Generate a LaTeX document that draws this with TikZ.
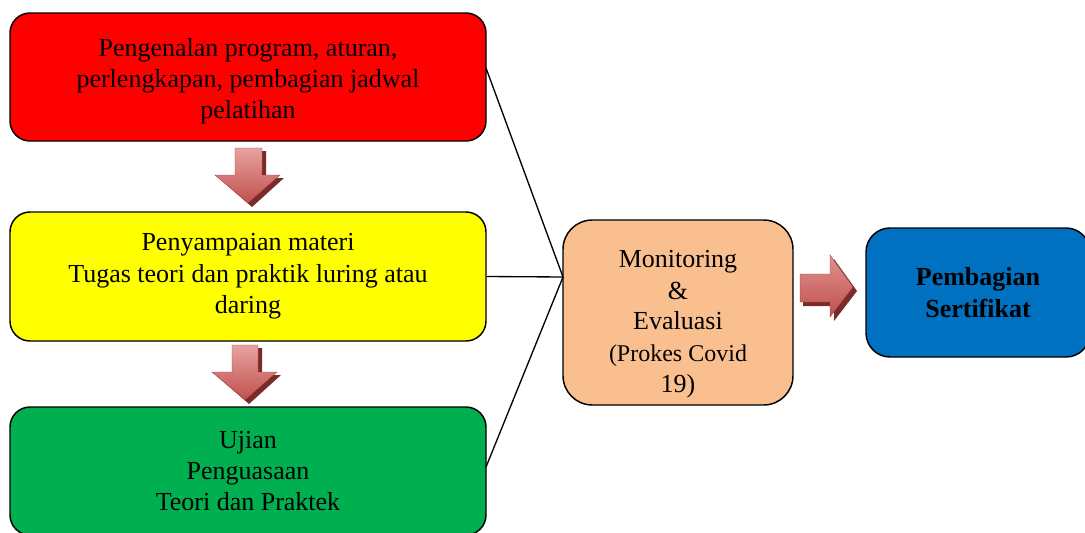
\documentclass[tikz,border=0pt]{standalone}
\usepackage{fontspec}
\setmainfont{Liberation Serif}
\definecolor{boxred}{HTML}{FF0000}
\definecolor{boxyellow}{HTML}{FFFF00}
\definecolor{boxgreen}{HTML}{00B050}
\definecolor{boxorange}{HTML}{F9BF8F}
\definecolor{boxblue}{HTML}{0070C0}
\definecolor{arrowdark}{HTML}{7A2A28}
\definecolor{arrowmain}{HTML}{C0504D}
\definecolor{arrowlight}{HTML}{E8A3A1}
\tikzset{
  box/.style={draw=black, line width=1.1pt, rounded corners=15pt, align=center,
    minimum width=357pt, minimum height=96pt, inner sep=0pt,
    font=\fontsize{19.5}{23.5}\selectfont},
  conn/.style={draw=black, line width=1pt},
  arrowshadow/.style={fill=arrowdark},
  arrowbody/.style={top color=arrowlight, bottom color=arrowmain, draw=arrowmain!80!black, line width=0.3pt},
}
\begin{document}
\begin{tikzpicture}[x=0.75pt, y=-0.75pt]
\useasboundingbox (0,0) rectangle (1085,532);

\node[box, fill=boxred] (red) at (248,77) {\rule{0pt}{20pt}Pengenalan program, aturan,\\perlengkapan, pembagian jadwal\\pelatihan};
\node[box, fill=boxyellow, minimum height=96.75pt] (yellow) at (248,276.5) {Penyampaian materi\\Tugas teori dan praktik luring atau\\daring};
\node[box, fill=boxgreen] (green) at (248,471) {Ujian\\Penguasaan\\Teori dan Praktek};
\node[box, fill=boxorange, minimum width=172.5pt, minimum height=138.75pt, rounded corners=22pt] (orange) at (678,312.5)
  {\rule{0pt}{30pt}Monitoring\\[1pt]\&\\[-1pt]Evaluasi\\\fontsize{18}{21.5}\selectfont (Prokes Covid\\19)};
\node[box, fill=boxblue, minimum width=168pt, minimum height=96.75pt, rounded corners=18pt, font=\fontsize{19.5}{23.5}\selectfont\bfseries] (blue) at (978,292.5) {Pembagian\\Sertifikat};

\coordinate (meet) at (563,277);
\coordinate (redout) at (486,68);
\coordinate (greenout) at (486,467);
\draw[conn] (redout) -- (meet);
\draw[conn] (yellow.east) -- (meet);
\draw[conn] (greenout) -- (meet);

% down arrow 1
\fill[arrowshadow] (239,151) -- (266,151) -- (266,178) -- (284,178) -- (252,207) -- (219,178) -- (239,178) -- cycle;
\shade[arrowbody] (235,148) -- (262,148) -- (262,175) -- (280,175) -- (248,203) -- (215,175) -- (235,175) -- cycle;
% down arrow 2
\fill[arrowshadow] (236,348) -- (262,348) -- (262,375) -- (281,375) -- (249,404) -- (216,375) -- (236,375) -- cycle;
\shade[arrowbody] (232,345) -- (258,345) -- (258,372) -- (277,372) -- (245,400) -- (212,372) -- (232,372) -- cycle;
% right arrow
\fill[arrowshadow] (803,278) -- (834,278) -- (834,259) -- (857,291) -- (834,321) -- (834,306) -- (803,306) -- cycle;
\shade[arrowbody, top color=arrowlight!80!arrowmain, bottom color=arrowmain] (800,274) -- (830,274) -- (830,255) -- (853,287) -- (830,317) -- (830,302) -- (800,302) -- cycle;
\end{tikzpicture}
\end{document}
